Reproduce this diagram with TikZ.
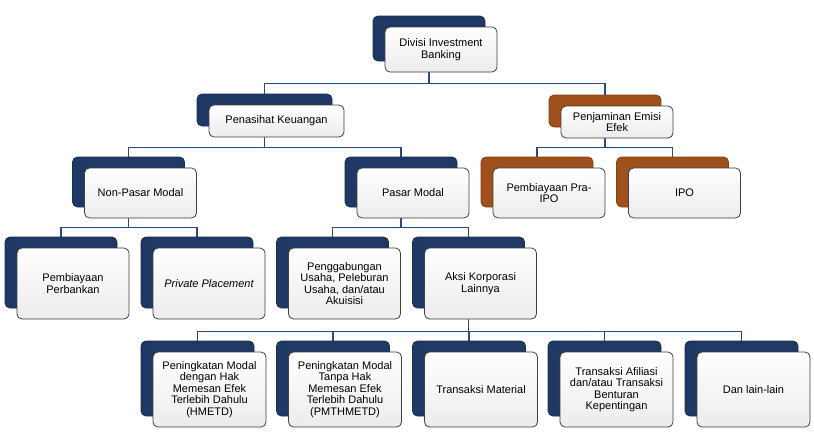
\documentclass[tikz,border=0pt]{standalone}
\usepackage{fontspec}
\setmainfont{Liberation Sans}
\usetikzlibrary{shadows,backgrounds}
\definecolor{navy}{HTML}{1F3864}
\definecolor{rust}{HTML}{A0501A}
\definecolor{linkblue}{HTML}{2B4C7E}
\definecolor{edgegray}{HTML}{3F3F3F}

\begin{document}
\begin{tikzpicture}[x=1pt, y=-1pt,
    every node/.style={font=\fontsize{11}{11.5}\selectfont, align=center, inner sep=3pt},
    card/.style={draw=edgegray, line width=0.8pt, rounded corners=5pt, top color=white, bottom color=gray!15},
    bluecard/.style={card, copy shadow={shadow xshift=-12pt, shadow yshift=11pt, fill=navy, draw=navy!80!black}},
    rustcard/.style={card, copy shadow={shadow xshift=-12pt, shadow yshift=11pt, fill=rust, draw=rust!80!black}},
    lvlone/.style={minimum width=112pt, minimum height=45pt},
    lvltwo/.style={minimum height=32pt},
    lvlthree/.style={minimum width=112pt, minimum height=50pt},
    lvlfour/.style={minimum width=112pt, minimum height=71pt},
    lvlfive/.style={minimum width=113pt, minimum height=75pt},
    link/.style={draw=linkblue, line width=1.2pt}]
\useasboundingbox (0,0) rectangle (814,437);
% Top: division
\node[bluecard, lvlone] (divisi) at (441,49.5) {Divisi Investment\\Banking};
% Second row
\node[bluecard, lvltwo, minimum width=135pt] (penasihat) at (276.5,121) {Penasihat Keuangan};
\node[rustcard, lvltwo, minimum width=112pt] (penjaminan) at (617,122) {Penjaminan Emisi\\Efek};
% Third row
\node[bluecard, lvlthree] (nonpasar) at (140.5,193) {Non-Pasar Modal};
\node[bluecard, lvlthree] (pasar) at (413,193) {Pasar Modal};
\node[rustcard, lvlthree] (praipo) at (549,193) {Pembiayaan Pra-\\IPO};
\node[rustcard, lvlthree] (ipo) at (684.5,193) {IPO};
% Fourth row
\node[bluecard, lvlfour] (perbankan) at (73,283.5) {Pembiayaan\\Perbankan};
\node[bluecard, lvlfour] (private) at (209,283.5) {\itshape Private Placement};
\node[bluecard, lvlfour] (merger) at (344.5,283.5) {Penggabungan\\Usaha, Peleburan\\Usaha, dan/atau\\Akuisisi};
\node[bluecard, lvlfour] (aksi) at (480.5,283.5) {Aksi Korporasi\\Lainnya};
% Bottom row
\node[bluecard, lvlfive] (hmetd) at (209.5,389.5) {Peningkatan Modal\\dengan Hak\\Memesan Efek\\Terlebih Dahulu\\(HMETD)};
\node[bluecard, lvlfive] (pmthmetd) at (345,389.5) {Peningkatan Modal\\Tanpa Hak\\Memesan Efek\\Terlebih Dahulu\\(PMTHMETD)};
\node[bluecard, lvlfive] (material) at (481,389.5) {Transaksi Material};
\node[bluecard, lvlfive] (afiliasi) at (616.5,389.5) {Transaksi Afiliasi\\dan/atau Transaksi\\Benturan\\Kepentingan};
\node[bluecard, lvlfive] (lain) at (753.5,389.5) {Dan lain-lain};
% Connectors
\begin{scope}[on background layer]
\draw[link] ([xshift=-12pt]divisi.south) -- ++(0,11) -| ([xshift=-12pt]penasihat.north);
\draw[link] ([xshift=-12pt]divisi.south) -- ++(0,11) -| ([xshift=-12pt]penjaminan.north);
\draw[link] ([xshift=-12pt]penasihat.south) -- ++(0,10) -| ([xshift=-12pt]nonpasar.north);
\draw[link] ([xshift=-12pt]penasihat.south) -- ++(0,10) -| ([xshift=-12pt]pasar.north);
\draw[link] ([xshift=-12pt]penjaminan.south) -- ++(0,9) -| ([xshift=-12pt]praipo.north);
\draw[link] ([xshift=-12pt]penjaminan.south) -- ++(0,9) -| ([xshift=-12pt]ipo.north);
\draw[link] ([xshift=-12pt]nonpasar.south) -- ++(0,9) -| ([xshift=-12pt]perbankan.north);
\draw[link] ([xshift=-12pt]nonpasar.south) -- ++(0,9) -| ([xshift=-12pt]private.north);
\draw[link] ([xshift=-12pt]pasar.south) -- ++(0,9) -| ([xshift=-12pt]merger.north);
\draw[link] ([xshift=-12pt]pasar.south) -- ++(0,9) -| ([xshift=-12pt]aksi.north);
\draw[link] ([xshift=-12pt]aksi.south) -- ++(0,12) -| ([xshift=-12pt]hmetd.north);
\draw[link] ([xshift=-12pt]aksi.south) -- ++(0,12) -| ([xshift=-12pt]pmthmetd.north);
\draw[link] ([xshift=-12pt]aksi.south) -- ++(0,12) -| ([xshift=-12pt]material.north);
\draw[link] ([xshift=-12pt]aksi.south) -- ++(0,12) -| ([xshift=-12pt]afiliasi.north);
\draw[link] ([xshift=-12pt]aksi.south) -- ++(0,12) -| ([xshift=-12pt]lain.north);
\end{scope}
\end{tikzpicture}
\end{document}
